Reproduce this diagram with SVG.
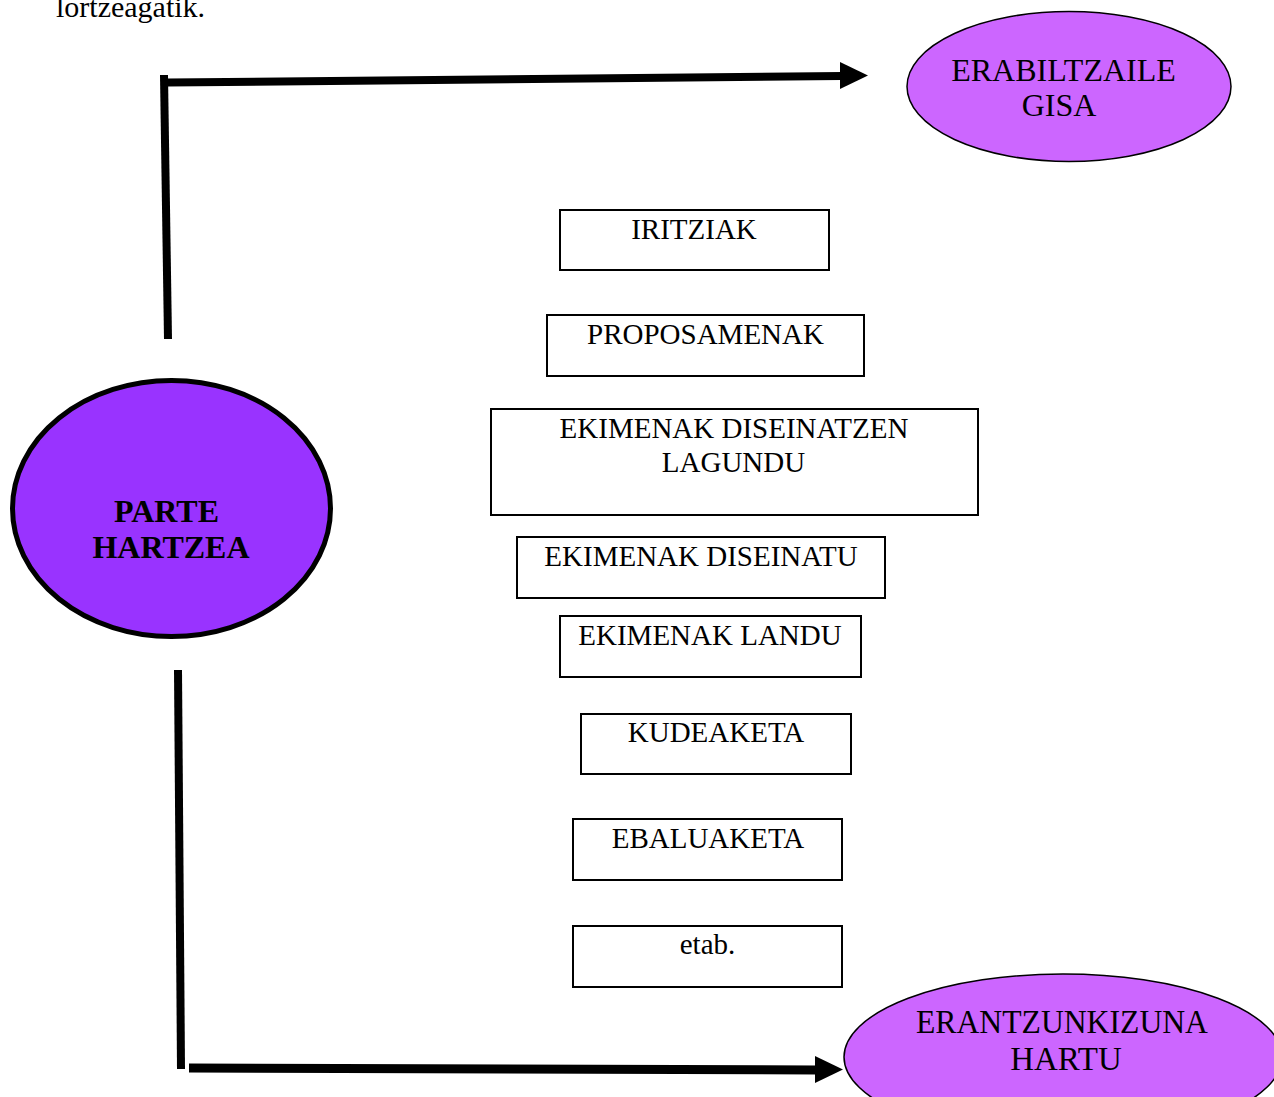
<svg xmlns="http://www.w3.org/2000/svg" width="1274" height="1097" viewBox="0 0 1274 1097">
<style>
text{fill:#000;text-anchor:middle}
.box{fill:#fff;stroke:#000;stroke-width:2}
.bt{font-size:29px}
.et{font-size:32px}
.line{stroke:#000;stroke-width:8;fill:none;stroke-linecap:butt}
.head{fill:#000}
</style>
<rect width="1274" height="1097" fill="#fff"/>
<g font-family="Liberation Serif, Times New Roman, Tinos, DejaVu Serif, serif">
<text x="56" y="17" style="font-size:30px;text-anchor:start">lortzeagatik.</text>

<g id="connectors">
  <path class="line" d="M164,75 L168,339"/>
  <path class="line" d="M168,82.5 L842,76"/>
  <polygon class="head" points="840,62 868,75.5 840,89"/>
  <path class="line" d="M178,670 L181,1069"/>
  <path class="line" style="stroke-width:9" d="M189,1068 L817,1070"/>
  <polygon class="head" points="815,1056 843,1069.5 815,1083"/>
</g>

<g id="parte-hartzea">
  <ellipse cx="171.5" cy="508.5" rx="159" ry="128" fill="#9933FF" stroke="#000" stroke-width="5"/>
  <text x="166.5" y="521.5" font-size="32" font-weight="bold">PARTE</text>
  <text x="171" y="558" font-size="32" font-weight="bold">HARTZEA</text>
</g>

<g id="erabiltzaile-gisa">
  <ellipse cx="1069" cy="86.5" rx="162" ry="75" fill="#CC66FF" stroke="#000" stroke-width="1.5"/>
  <text class="et" x="1063.5" y="81">ERABILTZAILE</text>
  <text class="et" x="1059" y="116">GISA</text>
</g>

<g id="erantzunkizuna-hartu">
  <ellipse cx="1063" cy="1057" rx="219" ry="83" fill="#CC66FF" stroke="#000" stroke-width="1.5"/>
  <text class="et" x="1062" y="1033" textLength="292" lengthAdjust="spacingAndGlyphs" style="font-size:33px">ERANTZUNKIZUNA</text>
  <text class="et" x="1066" y="1070" style="font-size:33px">HARTU</text>
</g>

<g id="iritziak">
  <rect class="box" x="560" y="210" width="269" height="60"/>
  <text class="bt" x="694" y="239">IRITZIAK</text>
</g>

<g id="proposamenak">
  <rect class="box" x="547" y="315" width="317" height="61"/>
  <text class="bt" x="705.5" y="344">PROPOSAMENAK</text>
</g>

<g id="ekimenak-diseinatzen-lagundu">
  <rect class="box" x="491" y="409" width="487" height="106"/>
  <text class="bt" x="734" y="437.5">EKIMENAK DISEINATZEN</text>
  <text class="bt" x="733.5" y="472">LAGUNDU</text>
</g>

<g id="ekimenak-diseinatu">
  <rect class="box" x="517" y="537" width="368" height="61"/>
  <text class="bt" x="701" y="565.5">EKIMENAK DISEINATU</text>
</g>

<g id="ekimenak-landu">
  <rect class="box" x="560" y="616" width="301" height="61"/>
  <text class="bt" x="710" y="645">EKIMENAK LANDU</text>
</g>

<g id="kudeaketa">
  <rect class="box" x="581" y="714" width="270" height="60"/>
  <text class="bt" x="716" y="742">KUDEAKETA</text>
</g>

<g id="ebaluaketa">
  <rect class="box" x="573" y="819" width="269" height="61"/>
  <text class="bt" x="708" y="847.5">EBALUAKETA</text>
</g>

<g id="etab">
  <rect class="box" x="573" y="926" width="269" height="61"/>
  <text class="bt" x="707.5" y="954">etab.</text>
</g>
</g>
</svg>
